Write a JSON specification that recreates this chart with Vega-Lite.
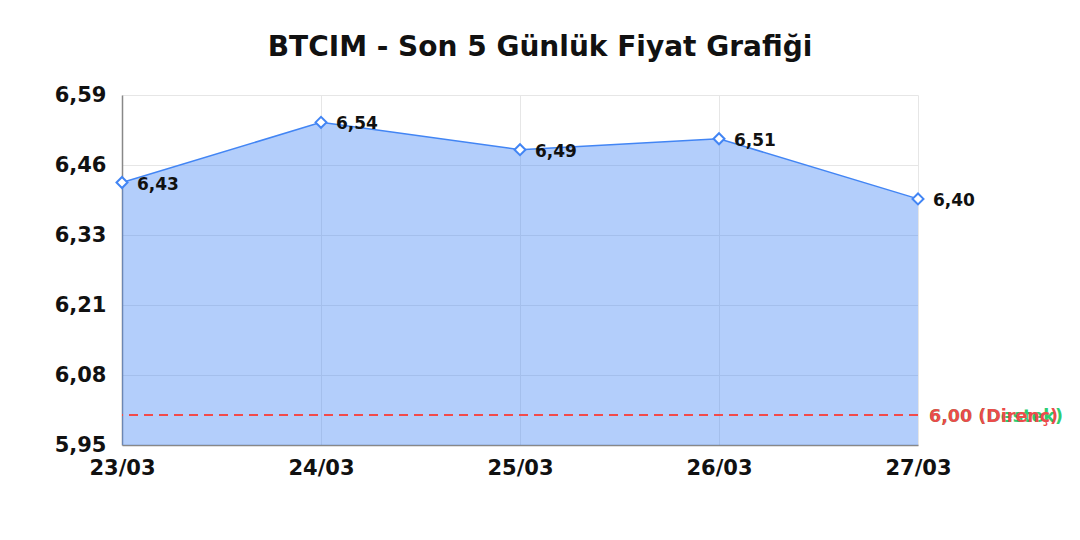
{
  "$schema": "https://vega.github.io/schema/vega-lite/v6.json",
  "autosize": {"type": "none"},
  "padding": {"left": 122, "top": 95, "right": 162, "bottom": 95},
  "width": 796,
  "height": 350,
  "background": "white",
  "title": {
    "text": "BTCIM - Son 5 Günlük Fiyat Grafiği",
    "font": "DejaVu Sans",
    "fontSize": 28,
    "fontWeight": "bold",
    "color": "#111111",
    "anchor": "middle",
    "dx": 20,
    "offset": 22
  },
  "config": {
    "locale": {"number": {"decimal": ",", "thousands": ".", "grouping": [3], "currency": ["", ""]}},
    "view": {"stroke": null},
    "axis": {
      "labelFont": "DejaVu Sans",
      "labelFontSize": 21,
      "labelFontWeight": "bold",
      "labelColor": "#111111",
      "ticks": false,
      "domainColor": "#888888",
      "domainWidth": 1.5,
      "gridColor": "#e6e6e6",
      "gridWidth": 1,
      "title": null
    }
  },
  "datasets": {
    "prices": [
      {"date": "23/03", "price": 6.43},
      {"date": "24/03", "price": 6.54},
      {"date": "25/03", "price": 6.49},
      {"date": "26/03", "price": 6.51},
      {"date": "27/03", "price": 6.40}
    ],
    "levels": [
      {"kind": "Destek", "level": 6.005, "date": "27/03", "label": "6,00 (Destek)"},
      {"kind": "Direnç", "level": 6.005, "date": "27/03", "label": "6,00 (Direnç)"}
    ]
  },
  "encoding": {
    "x": {
      "field": "date",
      "type": "ordinal",
      "sort": ["23/03", "24/03", "25/03", "26/03", "27/03"],
      "scale": {"type": "point", "padding": 0},
      "axis": {"labelAngle": 0, "labelPadding": 12, "grid": true}
    }
  },
  "layer": [
    {
      "data": {"name": "prices"},
      "mark": {"type": "area", "color": "#4285f4", "opacity": 0.4, "clip": true},
      "encoding": {
        "y": {
          "field": "price",
          "type": "quantitative",
          "scale": {"domain": [5.95, 6.59], "nice": false, "zero": false},
          "axis": {
            "values": [5.95, 6.078, 6.206, 6.334, 6.462, 6.59],
            "format": ".2f",
            "labelPadding": 16,
            "grid": true
          }
        }
      }
    },
    {
      "data": {"name": "levels"},
      "transform": [{"filter": "datum.kind === 'Direnç'"}],
      "mark": {"type": "rule", "color": "#f24b4b", "strokeDash": [9, 6], "strokeWidth": 2},
      "encoding": {"y": {"field": "level", "type": "quantitative"}, "x": null}
    },
    {
      "data": {"name": "levels"},
      "mark": {"type": "text", "align": "left", "baseline": "middle", "dx": 11, "dy": 2, "font": "DejaVu Sans", "fontSize": 17.5, "fontWeight": "bold"},
      "encoding": {
        "y": {"field": "level", "type": "quantitative"},
        "text": {"field": "label"},
        "color": {
          "field": "kind",
          "type": "nominal",
          "scale": {"domain": ["Destek", "Direnç"], "range": ["#2ecc71", "#ec4b4b"]},
          "legend": null
        }
      }
    },
    {
      "data": {"name": "prices"},
      "mark": {"type": "line", "color": "#4285f4", "strokeWidth": 1.5},
      "encoding": {"y": {"field": "price", "type": "quantitative"}}
    },
    {
      "data": {"name": "prices"},
      "mark": {"type": "point", "shape": "diamond", "filled": true, "fill": "white", "stroke": "#4285f4", "strokeWidth": 2, "size": 120, "opacity": 1},
      "encoding": {"y": {"field": "price", "type": "quantitative"}}
    },
    {
      "data": {"name": "prices"},
      "mark": {"type": "text", "align": "left", "baseline": "middle", "dx": 15, "dy": 2, "font": "DejaVu Sans", "fontSize": 17, "fontWeight": "bold", "color": "#111111"},
      "encoding": {
        "y": {"field": "price", "type": "quantitative"},
        "text": {"field": "price", "type": "quantitative", "format": ".2f"}
      }
    }
  ]
}
